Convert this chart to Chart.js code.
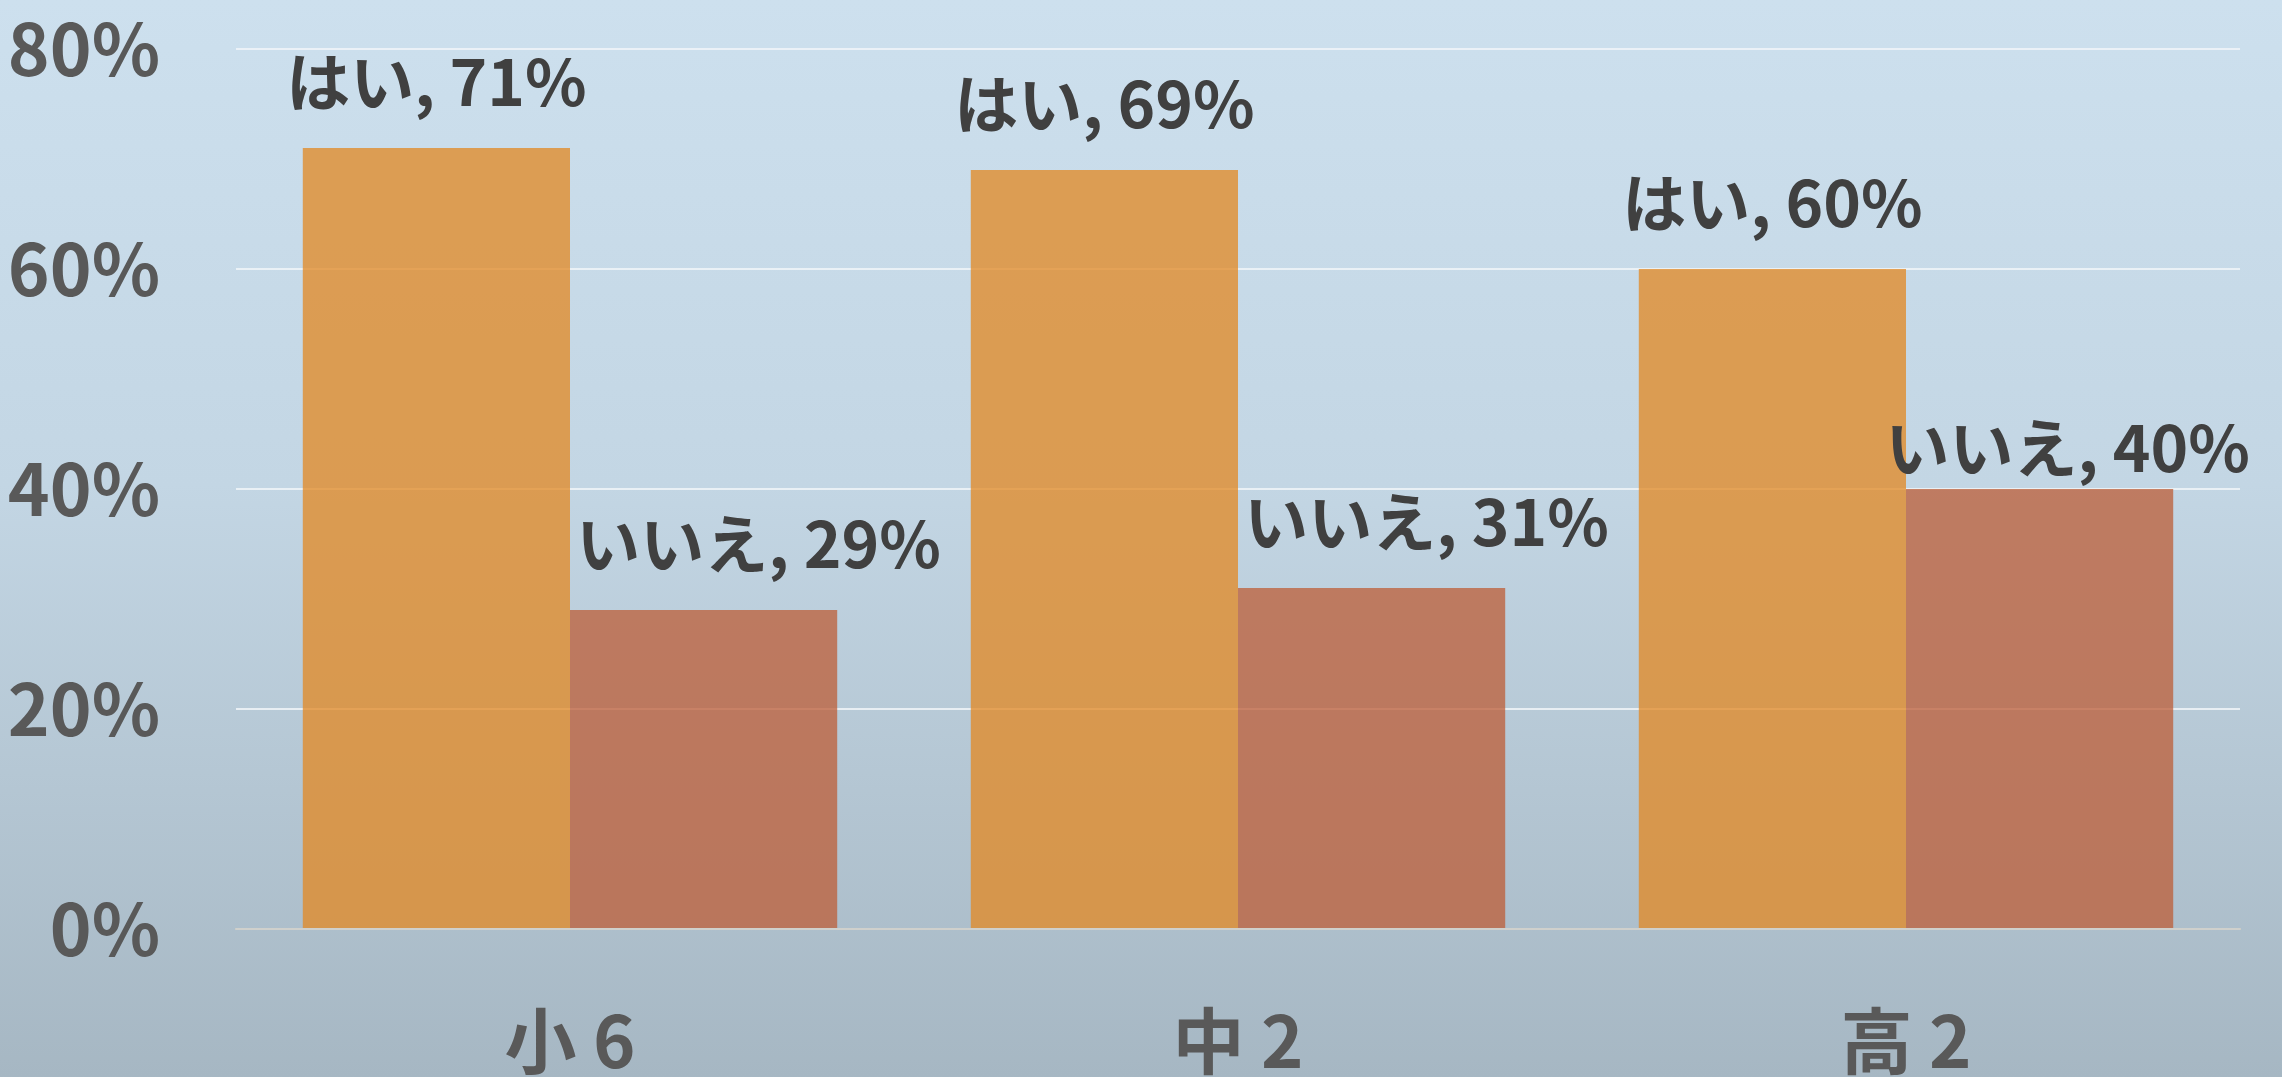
<!DOCTYPE html>
<html lang="ja">
<head>
<meta charset="utf-8">
<title>はい / いいえ</title>
<script src="https://cdn.jsdelivr.net/npm/chart.js@4.4.1/dist/chart.umd.min.js"></script>
<style>
  html, body {
    margin: 0;
    padding: 0;
    width: 2282px;
    height: 1077px;
    overflow: hidden;
  }
  body {
    background: linear-gradient(to bottom, #cde0ee 0%, #c3d6e4 45%, #a6b7c3 100%);
  }
  #wrap {
    position: relative;
    width: 2282px;
    height: 1077px;
  }
</style>
</head>
<body>
<div id="wrap"><canvas id="barChart"></canvas></div>
<script>
const categories = ["小 6", "中 2", "高 2"];
const seriesNames = ["はい", "いいえ"];
const yesValues = [71, 69, 60];
const noValues = [29, 31, 40];
const yTicks = [0, 20, 40, 60, 80];

const FONT = '"Noto Sans CJK JP", "Noto Sans", sans-serif';

// draws "はい, 71%" style labels above the bars
const barLabels = {
  id: "barLabels",
  afterDatasetsDraw(chart) {
    const ctx = chart.ctx;
    const area = chart.chartArea;
    ctx.save();
    ctx.font = "bold 64px " + FONT;
    ctx.fillStyle = "#404040";
    ctx.textBaseline = "alphabetic";
    chart.data.datasets.forEach((ds, di) => {
      const meta = chart.getDatasetMeta(di);
      meta.data.forEach((bar, i) => {
        const text = ds.label + ", " + ds.data[i] + "%";
        const w = ctx.measureText(text).width;
        let x = bar.x;
        let y = bar.y - 42;
        if (di === 1) {
          x += 55;
          // keep it inside the plot on the right side
          const maxX = area.right + 10 - w / 2;
          if (x > maxX) {
            x = maxX;
            y = bar.y - 17;
          }
        }
        ctx.textAlign = "center";
        ctx.fillText(text, x, y);
      });
    });
    ctx.restore();
  }
};

const ctx = document.getElementById("barChart").getContext("2d");

new Chart(ctx, {
  type: "bar",
  data: {
    labels: categories,
    datasets: [
      {
        label: seriesNames[0],
        data: yesValues,
        backgroundColor: "rgba(226, 137, 35, 0.76)",
        borderWidth: 0
      },
      {
        label: seriesNames[1],
        data: noValues,
        backgroundColor: "rgba(189, 94, 57, 0.76)",
        borderWidth: 0
      }
    ]
  },
  options: {
    responsive: true,
    maintainAspectRatio: false,
    animation: false,
    layout: { padding: { top: 49, right: 42, left: 0, bottom: 0 } },
    plugins: {
      legend: { display: false },
      tooltip: { enabled: false }
    },
    datasets: {
      bar: { categoryPercentage: 0.8, barPercentage: 1.0 }
    },
    scales: {
      x: {
        grid: { display: false, drawTicks: false },
        border: { display: true, color: "rgba(205, 205, 200, 0.9)", width: 2 },
        ticks: {
          color: "#595959",
          font: { family: FONT, size: 72, weight: "bold" },
          padding: 68
        },
        afterFit(scale) { scale.height = 148; }
      },
      y: {
        min: 0,
        max: 80,
        afterBuildTicks(scale) {
          scale.ticks = yTicks.map(v => ({ value: v }));
        },
        grid: { color: "rgba(240, 244, 248, 0.85)", lineWidth: 2, drawTicks: false },
        border: { display: false },
        ticks: {
          color: "#595959",
          font: { family: FONT, size: 71, weight: "bold" },
          padding: 76,
          callback: v => v + "%"
        },
        afterFit(scale) {
          scale.width = 236;
          scale.paddingTop = 0;
          scale.paddingBottom = 0;
        }
      }
    }
  },
  plugins: [barLabels]
});
</script>
</body>
</html>
